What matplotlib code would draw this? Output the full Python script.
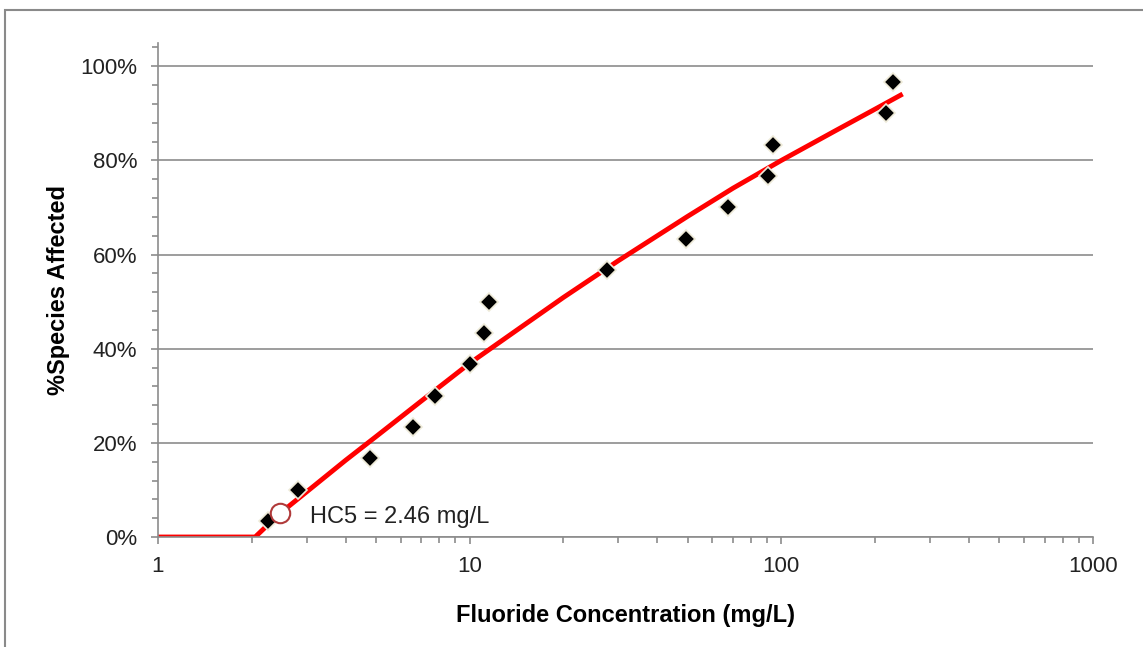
import matplotlib.pyplot as plt
from matplotlib.patches import Rectangle
from matplotlib.ticker import FixedLocator, FuncFormatter, LogLocator, NullFormatter

plt.rcParams['font.family'] = ['Liberation Sans', 'DejaVu Sans']

# species sensitivity data (mg/L, fraction affected)
conc = [2.25, 2.81, 4.79, 6.58, 7.74, 10.0, 11.1, 11.5, 27.6, 49.4, 67.4, 90.6, 94.0, 216.6, 228.0]
affected = [0.033, 0.100, 0.167, 0.233, 0.300, 0.367, 0.433, 0.500, 0.567, 0.633, 0.700, 0.767, 0.833, 0.900, 0.967]

# fitted curve
fit_x = [1.0, 2.05, 2.46, 3.0, 4.0, 5.0, 7.0, 10.0, 15.0, 20.0, 30.0, 50.0, 70.0, 100.0, 150.0, 200.0, 245.0]
fit_y = [0.0, 0.0, 0.05, 0.096, 0.163, 0.213, 0.289, 0.369, 0.451, 0.509, 0.587, 0.681, 0.741, 0.80, 0.864, 0.909, 0.941]

hc5_x = 2.46
hc5_y = 0.05

fig = plt.figure(figsize=(11.43, 6.47), dpi=100)
ax = fig.add_axes([0.1382, 0.170, 0.8181, 0.764])

# outer frame like the excel chart area
fig.patches.append(Rectangle((5 / 1143, -0.1), 1.2, 1 - 10 / 647 + 0.1, transform=fig.transFigure,
                             fill=False, edgecolor='#8a8a8a', linewidth=1.5))

ax.plot(fit_x, fit_y, color='#ff0000', linewidth=3.5, zorder=2, solid_capstyle='butt')
ax.plot(conc, affected, linestyle='none', marker='D', markersize=9, color='black',
        markeredgecolor='#eeead8', markeredgewidth=1.2, zorder=3)
ax.plot(hc5_x, hc5_y, marker='o', markersize=14, markerfacecolor='white',
        markeredgecolor='#b03a3a', markeredgewidth=1.5, zorder=4)
ax.text(3.07, 0.043, 'HC5 = 2.46 mg/L', fontsize=17, va='center', ha='left', color='#222222')

ax.set_xscale('log')
ax.set_xlim(1, 1000)
ax.set_ylim(0, 1.05)

ax.yaxis.set_major_locator(FixedLocator([0, 0.2, 0.4, 0.6, 0.8, 1.0]))
ax.yaxis.set_minor_locator(FixedLocator([i * 0.04 for i in range(27)]))
ax.yaxis.set_major_formatter(FuncFormatter(lambda v, p: f'{v * 100:.0f}%'))
ax.xaxis.set_major_locator(FixedLocator([1, 10, 100, 1000]))
ax.xaxis.set_major_formatter(FuncFormatter(lambda v, p: f'{v:.0f}'))
ax.xaxis.set_minor_locator(LogLocator(base=10, subs=range(2, 10)))
ax.xaxis.set_minor_formatter(NullFormatter())

ax.grid(axis='y', which='major', color='#8c8c8c', linewidth=1.2)
ax.set_axisbelow(True)
for s in ['top', 'right']:
    ax.spines[s].set_visible(False)
for s in ['left', 'bottom']:
    ax.spines[s].set_color('#8c8c8c')
    ax.spines[s].set_linewidth(1.2)

ax.tick_params(which='major', length=5, width=1.2, color='#8c8c8c', labelsize=16, labelcolor='#222222')
ax.tick_params(which='minor', length=4, width=1.2, color='#8c8c8c')
ax.tick_params(axis='y', which='major', pad=10)
ax.tick_params(axis='x', which='major', pad=9)

ax.set_xlabel('Fluoride Concentration (mg/L)', fontsize=17, fontweight='bold', labelpad=19)
ax.set_ylabel('%Species Affected', fontsize=17, fontweight='bold', labelpad=7)

fig.savefig('out.png', dpi=100)
